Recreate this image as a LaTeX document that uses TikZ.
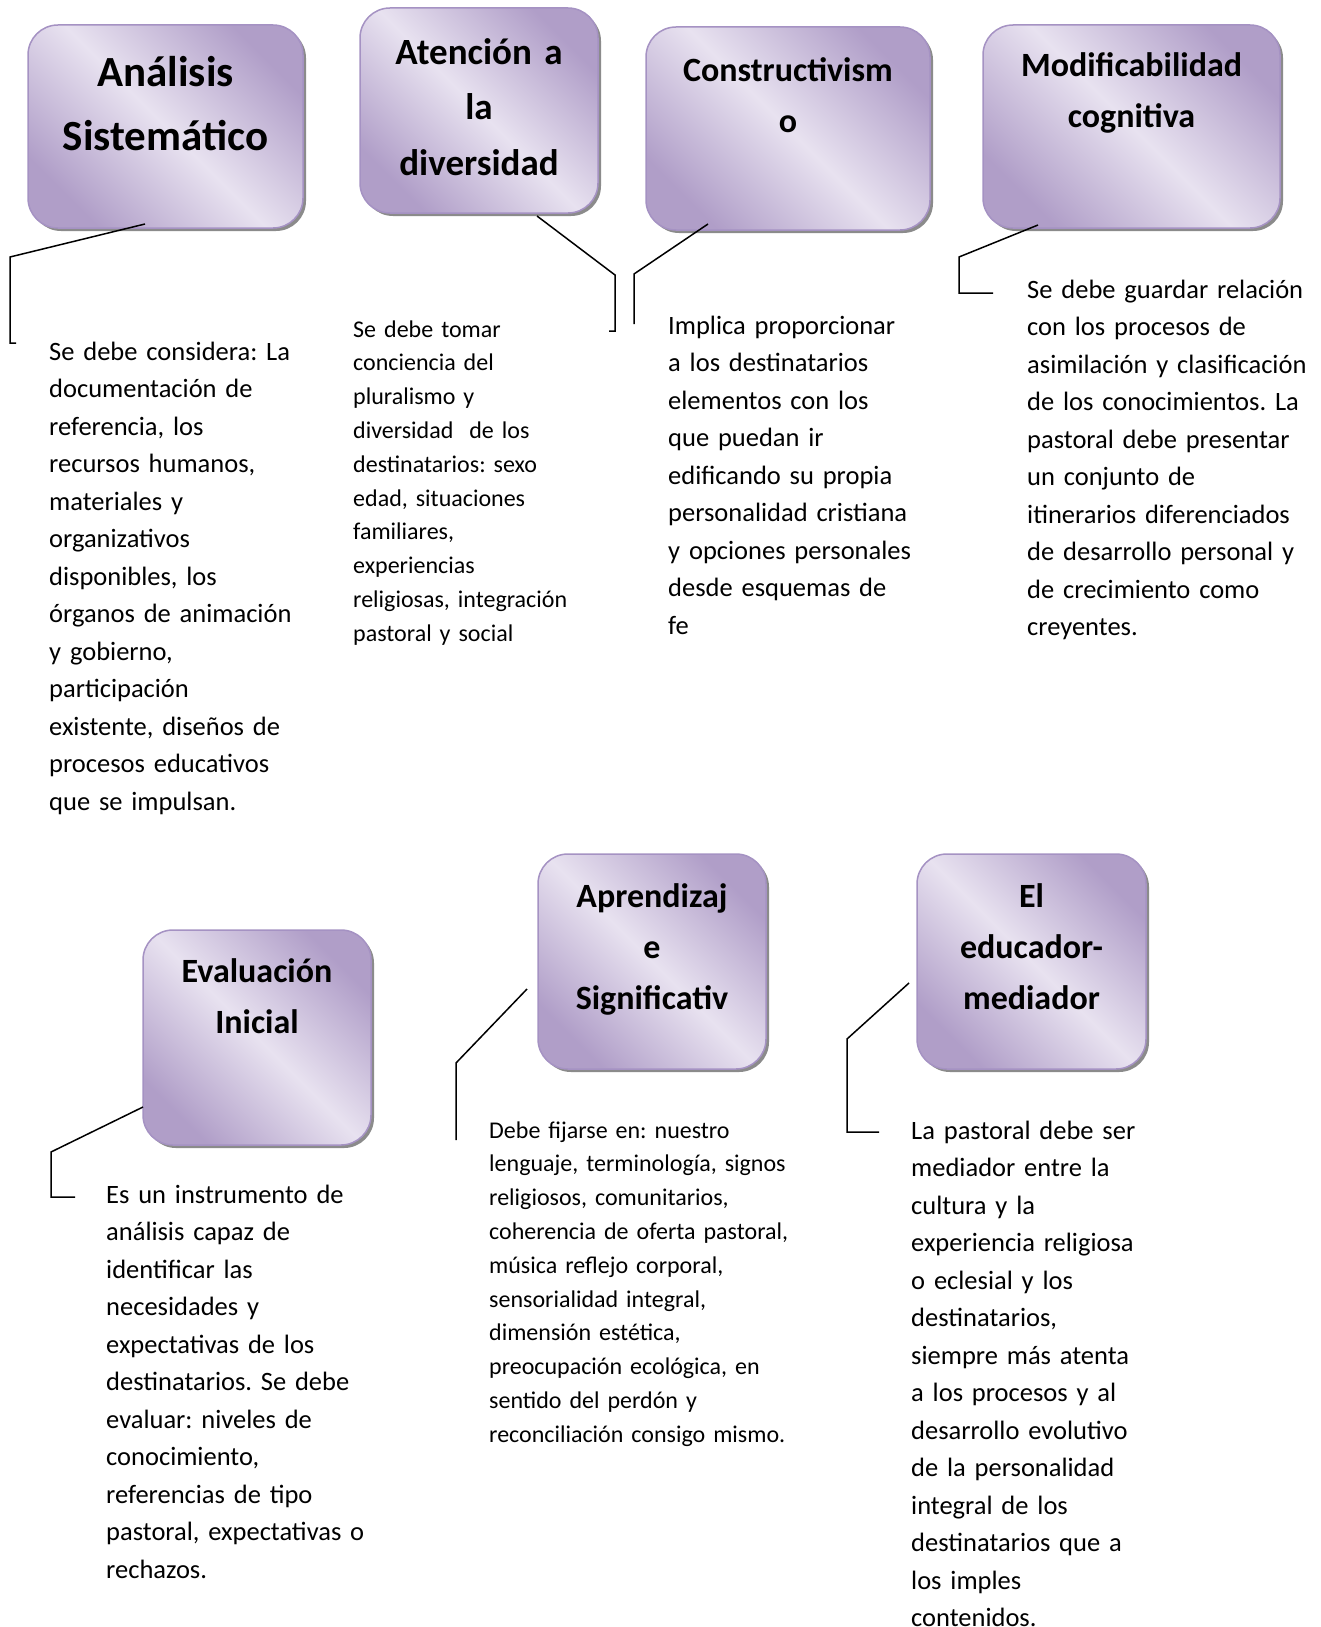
\documentclass[tikz,border=0pt]{standalone}
\usepackage{fontspec}
\setmainfont{Carlito}
\usetikzlibrary{shadows}
\frenchspacing
\definecolor{topicdark}{RGB}{176,158,200}
\definecolor{topiclight}{RGB}{232,226,240}
\definecolor{topicedge}{RGB}{165,146,195}
\definecolor{topicshadow}{RGB}{110,110,110}
\tikzset{
    topic/.style={rectangle, rounded corners=30pt, draw=topicedge, line width=1.5pt,
        top color=topicdark, bottom color=topicdark, middle color=topiclight, shading angle=-45,
        drop shadow={shadow xshift=3pt, shadow yshift=-3pt, fill=topicshadow, opacity=0.8}},
    topictitle/.style={font=\bfseries\fontsize{34}{51}\selectfont, align=center, anchor=base, text width=260pt, inner sep=0pt},
    note/.style={font=\fontsize{26.5}{37.5}\selectfont, align=left, anchor=base west, text width=300pt, inner sep=0pt},
    smallnote/.style={note, font=\fontsize{24}{33.8}\selectfont},
    callout/.style={line width=1.5pt, black},
}

\begin{document}
\begin{tikzpicture}[x=1pt, y=-1pt]
    \path[use as bounding box, fill=white] (0,0) rectangle (1320,1627);

    % Top row
    \node[topic, minimum width=275pt, minimum height=203pt] (A) at (165.5,126.5) {};
    \node[topictitle, font=\bfseries\fontsize{43}{64}\selectfont] (A-t) at ([yshift=-62pt]A.north) {Análisis\\Sistemático};

    \node[topic, minimum width=238pt, minimum height=205pt] (B) at (479,110.5) {};
    \node[topictitle, font=\bfseries\fontsize{37}{55.5}\selectfont] (B-t) at ([yshift=-57pt]B.north) {Atención a\\la\\diversidad};

    \node[topic, minimum width=284pt, minimum height=203pt] (C) at (788,128.5) {};
    \node[topictitle] (C-t) at ([yshift=-55pt]C.north) {Constructivism\\o};

    \node[topic, minimum width=297pt, minimum height=203pt] (D) at (1131.5,126.5) {};
    \node[topictitle] (D-t) at ([yshift=-52pt]D.north) {Modificabilidad\\cognitiva};

    % Bottom row
    \node[topic, minimum width=228pt, minimum height=215pt] (E) at (257,1037.5) {};
    \node[topictitle] (E-t) at ([yshift=-53pt]E.north) {Evaluación\\Inicial};

    \node[topic, minimum width=228pt, minimum height=215pt] (F) at (652,961.5) {};
    \node[topictitle] (F-t) at ([yshift=-54pt]F.north) {Aprendizaj\\e\\Significativ};

    \node[topic, minimum width=229pt, minimum height=215pt] (G) at (1031.5,961.5) {};
    \node[topictitle] (G-t) at ([yshift=-54pt]G.north) {El\\educador-\\mediador};

    % Descriptions
    \node[note] (A-n) at (49,360) {Se debe considera: La\\documentación de\\referencia, los\\recursos humanos,\\materiales y\\organizativos\\disponibles, los\\órganos de animación\\y gobierno,\\participación\\existente, diseños de\\procesos educativos\\que se impulsan.};
    \node[smallnote] (B-n) at (353,337) {Se debe tomar\\conciencia del\\pluralismo y\\diversidad\ \ de los\\destinatarios: sexo\\edad, situaciones\\familiares,\\experiencias\\religiosas, integración\\pastoral y social};
    \node[note] (C-n) at (668,334) {Implica proporcionar\\a los destinatarios\\elementos con los\\que puedan ir\\edificando su propia\\personalidad cristiana\\y opciones personales\\desde esquemas de\\fe};
    \node[note] (D-n) at (1027,298) {Se debe guardar relación\\con los procesos de\\asimilación y clasificación\\de los conocimientos. La\\pastoral debe presentar\\un conjunto de\\itinerarios diferenciados\\de desarrollo personal y\\de crecimiento como\\creyentes.};
    \node[note] (E-n) at (106,1203) {Es un instrumento de\\análisis capaz de\\identificar las\\necesidades y\\expectativas de los\\destinatarios. Se debe\\evaluar: niveles de\\conocimiento,\\referencias de tipo\\pastoral, expectativas o\\rechazos.};
    \node[smallnote] (F-n) at (489,1138) {Debe fijarse en: nuestro\\lenguaje, terminología, signos\\religiosos, comunitarios,\\coherencia de oferta pastoral,\\música reflejo corporal,\\sensorialidad integral,\\dimensión estética,\\preocupación ecológica, en\\sentido del perdón y\\reconciliación consigo mismo.};
    \node[note] (G-n) at (911,1139) {La pastoral debe ser\\mediador entre la\\cultura y la\\experiencia religiosa\\o eclesial y los\\destinatarios,\\siempre más atenta\\a los procesos y al\\desarrollo evolutivo\\de la personalidad\\integral de los\\destinatarios que a\\los imples\\contenidos.};

    % Callout lines
    \coordinate (A-c1) at (145,224);  \coordinate (A-c2) at (10,257);
    \coordinate (A-c3) at (10,343);   \coordinate (A-c4) at (16,343);
    \draw[callout] (A-c1) -- (A-c2) -- (A-c3) -- (A-c4);

    \coordinate (B-c1) at (537,216);  \coordinate (B-c2) at (615,275);
    \coordinate (B-c3) at (615,331);  \coordinate (B-c4) at (609,331);
    \draw[callout] (B-c1) -- (B-c2) -- (B-c3) -- (B-c4);

    \coordinate (C-c1) at (708,224);  \coordinate (C-c2) at (634,274);
    \coordinate (C-c3) at (634,324);
    \draw[callout] (C-c1) -- (C-c2) -- (C-c3);

    \coordinate (D-c1) at (1038,225); \coordinate (D-c2) at (959,257);
    \coordinate (D-c3) at (959,293);  \coordinate (D-c4) at (993,293);
    \draw[callout] (D-c1) -- (D-c2) -- (D-c3) -- (D-c4);

    \coordinate (E-c1) at (143,1107); \coordinate (E-c2) at (51,1152);
    \coordinate (E-c3) at (51,1197);  \coordinate (E-c4) at (75,1197);
    \draw[callout] (E-c1) -- (E-c2) -- (E-c3) -- (E-c4);

    \coordinate (F-c1) at (527,989);  \coordinate (F-c2) at (456,1063);
    \coordinate (F-c3) at (456,1140);
    \draw[callout] (F-c1) -- (F-c2) -- (F-c3);

    \coordinate (G-c1) at (909,983);  \coordinate (G-c2) at (847,1039);
    \coordinate (G-c3) at (847,1132); \coordinate (G-c4) at (879,1132);
    \draw[callout] (G-c1) -- (G-c2) -- (G-c3) -- (G-c4);
\end{tikzpicture}
\end{document}
